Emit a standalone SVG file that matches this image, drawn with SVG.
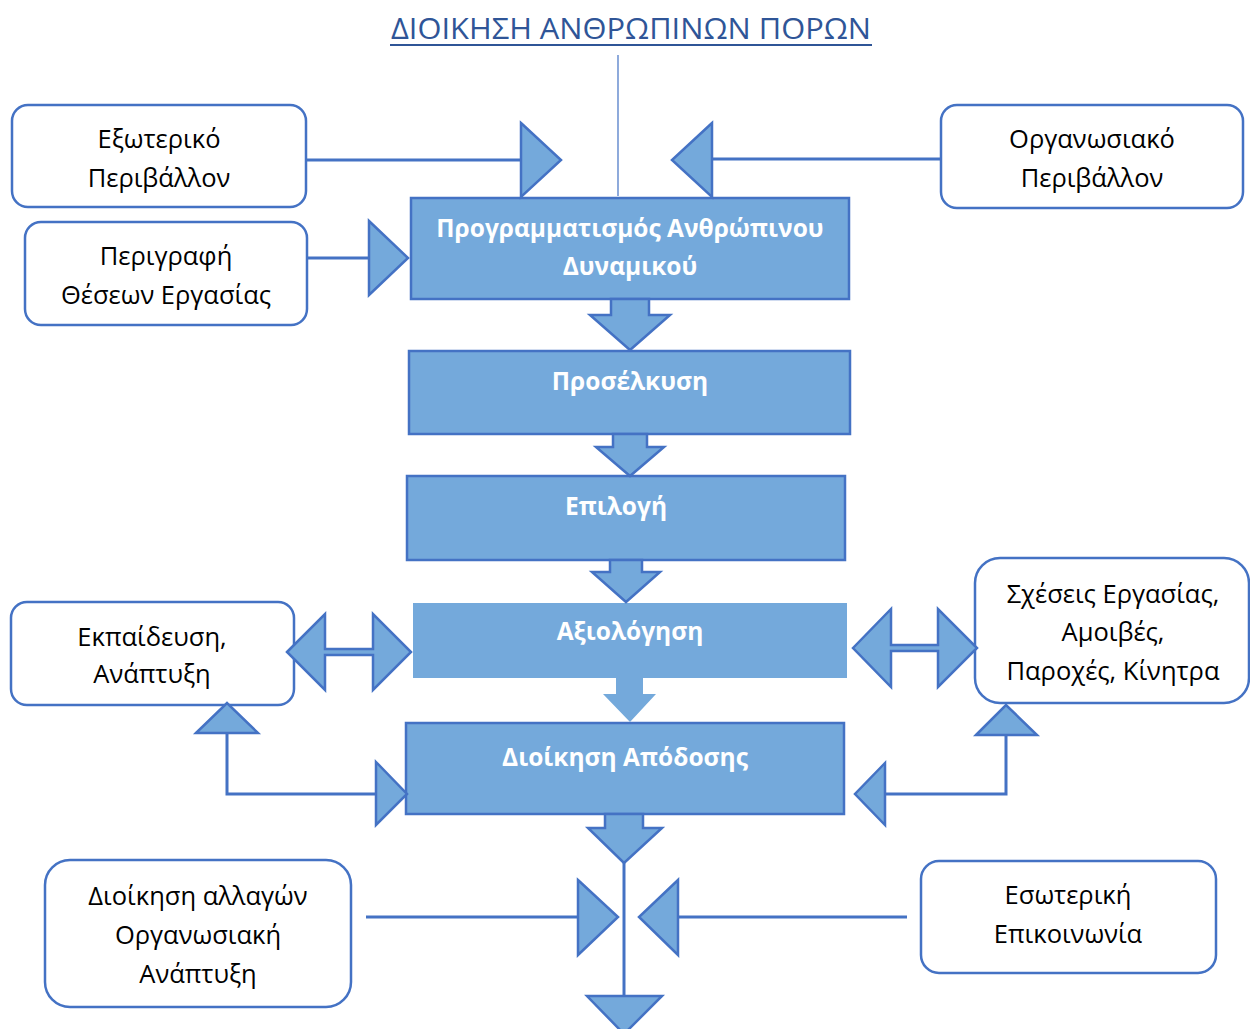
<svg xmlns="http://www.w3.org/2000/svg" width="1250" height="1029" viewBox="0 0 1250 1029">
<style>
.box{fill:#fff;stroke:#4472C4;stroke-width:2.5}
.blk{fill:#74A9DB;stroke:#4472C4;stroke-width:2.5}
.blkn{fill:#74A9DB;stroke:none}
.ln{fill:none;stroke:#4472C4;stroke-width:3}
.thin{fill:none;stroke:#4472C4;stroke-width:1.2}
.t{font-family:"Open Sans","Noto Sans",sans-serif;font-size:25.5px;fill:#000;text-anchor:middle}
.w{font-family:"Open Sans","Noto Sans",sans-serif;font-size:24.5px;font-weight:bold;fill:#fff;text-anchor:middle}
</style>
<rect width="1250" height="1029" fill="#fff"/>
<g id="title">
<text x="631" y="39" font-family="Open Sans, Noto Sans, sans-serif" font-size="30" fill="#2F5597" text-anchor="middle" textLength="480" lengthAdjust="spacingAndGlyphs">ΔΙΟΙΚΗΣΗ ΑΝΘΡΩΠΙΝΩΝ ΠΟΡΩΝ</text>
<line x1="390" y1="45" x2="872" y2="45" stroke="#2F5597" stroke-width="2"/>
</g>
<g id="n-programmatismos">
<rect class="blk" x="411" y="198" width="438" height="101"/>
<text class="w" x="630" y="237">Προγραμματισμός Ανθρώπινου</text>
<text class="w" x="630" y="275">Δυναμικού</text>
</g>
<g id="n-proselkysi">
<rect class="blk" x="409" y="351" width="441" height="83"/>
<text class="w" x="630" y="390">Προσέλκυση</text>
</g>
<g id="n-epilogi">
<rect class="blk" x="407" y="476" width="438" height="84"/>
<text class="w" x="616" y="515">Επιλογή</text>
</g>
<g id="n-axiologisi">
<rect class="blkn" x="413" y="603" width="434" height="75"/>
<text class="w" x="630" y="640">Αξιολόγηση</text>
</g>
<g id="n-dioikisi-apodosis">
<rect class="blk" x="406" y="723" width="438" height="91"/>
<text class="w" x="625" y="766">Διοίκηση Απόδοσης</text>
</g>
<g id="n-exoteriko">
<rect class="box" x="12" y="105" width="294" height="102" rx="16"/>
<text class="t" x="159" y="148">Εξωτερικό</text>
<text class="t" x="159" y="187">Περιβάλλον</text>
</g>
<g id="n-perigrafi">
<rect class="box" x="25" y="222" width="282" height="103" rx="16"/>
<text class="t" x="166" y="265">Περιγραφή</text>
<text class="t" x="166" y="304">Θέσεων Εργασίας</text>
</g>
<g id="n-organosiako">
<rect class="box" x="941" y="105" width="302" height="103" rx="16"/>
<text class="t" x="1092" y="148">Οργανωσιακό</text>
<text class="t" x="1092" y="187">Περιβάλλον</text>
</g>
<g id="n-ekpaideusi">
<rect class="box" x="11" y="602" width="283" height="103" rx="16"/>
<text class="t" x="152" y="646">Εκπαίδευση,</text>
<text class="t" x="152" y="683">Ανάπτυξη</text>
</g>
<g id="n-sxeseis">
<rect class="box" x="975" y="558" width="274" height="145" rx="25"/>
<text class="t" x="1113" y="603">Σχέσεις Εργασίας,</text>
<text class="t" x="1113" y="641">Αμοιβές,</text>
<text class="t" x="1113" y="680">Παροχές, Κίνητρα</text>
</g>
<g id="n-allagon">
<rect class="box" x="45" y="860" width="306" height="147" rx="25"/>
<text class="t" x="198" y="905">Διοίκηση αλλαγών</text>
<text class="t" x="198" y="944">Οργανωσιακή</text>
<text class="t" x="198" y="983">Ανάπτυξη</text>
</g>
<g id="n-esoteriki">
<rect class="box" x="921" y="861" width="295" height="112" rx="18"/>
<text class="t" x="1068" y="904">Εσωτερική</text>
<text class="t" x="1068" y="943">Επικοινωνία</text>
</g>
<g id="connectors">
<line class="thin" x1="618" y1="55" x2="618" y2="196"/>
<line class="ln" x1="307" y1="160" x2="521" y2="160"/>
<polygon class="blk" points="521,123 561,160 521,197"/>
<line class="ln" x1="712" y1="159" x2="940" y2="159"/>
<polygon class="blk" points="712,123 672,160 712,197"/>
<line class="ln" x1="308" y1="258" x2="369" y2="258"/>
<polygon class="blk" points="369,221 408,258 369,295"/>
<polygon class="blk" points="611,299 611,315 590,315 630,350 670,315 649,315 649,299"/>
<polygon class="blk" points="613,434 613,447 596,447 630,476 664,447 647,447 647,434"/>
<polygon class="blk" points="610,560 610,572 592,572 626,602 660,572 642,572 642,560"/>
<polygon class="blkn" points="616,678 616,694 603,694 630,722 656,694 643,694 643,678"/>
<polygon class="blk" points="605,814 605,828 588,828 624,863 662,828 643,828 643,814"/>
<polygon class="blk" points="287,652 325,614 325,649 373,649 373,614 411,652 373,690 373,655 325,655 325,690"/>
<polygon class="blk" points="853,648 891,609 891,645 938,645 938,609 977,648 938,687 938,651 891,651 891,687"/>
<polyline class="ln" points="227,733 227,794 376,794"/>
<polygon class="blk" points="196,733 227,703 258,733"/>
<polygon class="blk" points="376,762 407,794 376,825"/>
<polyline class="ln" points="1006,735 1006,794 885,794"/>
<polygon class="blk" points="976,735 1006,705 1037,735"/>
<polygon class="blk" points="885,763 855,794 885,825"/>
<line class="ln" x1="624" y1="863" x2="624" y2="996"/>
<line class="ln" x1="366" y1="917" x2="578" y2="917"/>
<polygon class="blk" points="578,880 618,917 578,955"/>
<line class="ln" x1="678" y1="917" x2="907" y2="917"/>
<polygon class="blk" points="678,880 639,917 678,955"/>
<polygon class="blk" points="587,996 662,996 624,1034"/>
</g>
</svg>
